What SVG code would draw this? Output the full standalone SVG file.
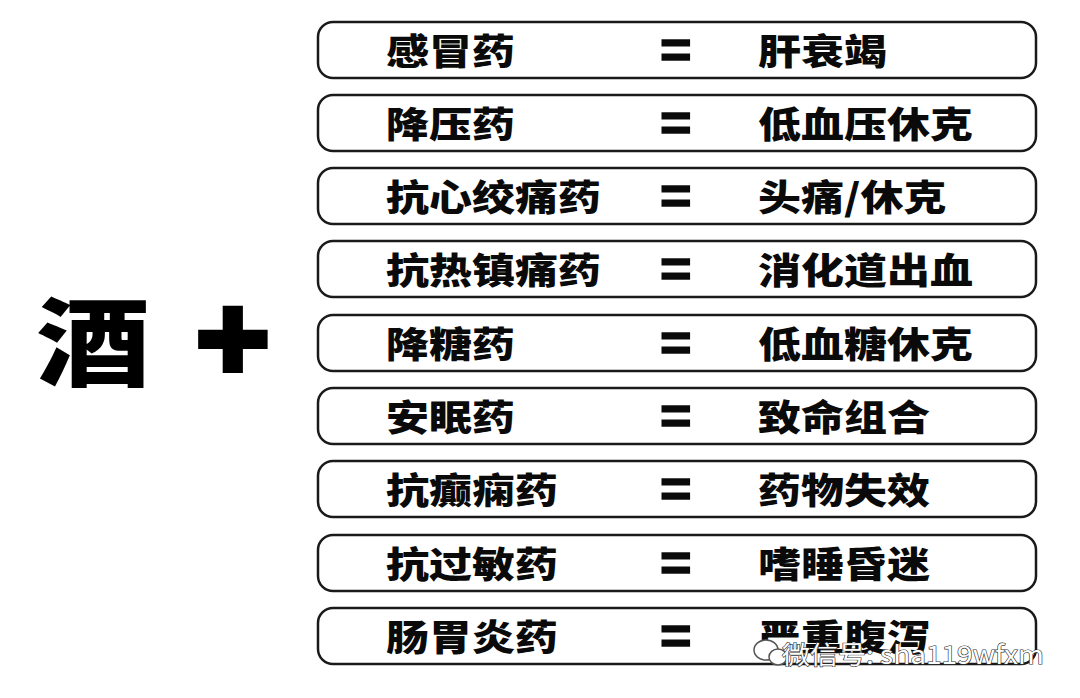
<svg xmlns="http://www.w3.org/2000/svg" width="1080" height="698" viewBox="0 0 1080 698">
<style>
.box{fill:#ffffff;stroke:#1a1a1a;stroke-width:2.5}
.t{font-family:"Noto Sans CJK SC","Noto Sans CJK TC",sans-serif;font-weight:900;font-size:43px;fill:#0a0a0a}
.eq{font-family:"Liberation Sans",Arial,sans-serif;font-weight:bold;font-size:54px;fill:#0a0a0a;stroke:#0a0a0a;stroke-width:1.5}
.big{font-family:"Noto Sans CJK SC",sans-serif;font-weight:900;font-size:118px;fill:#000}
.plus{font-family:"Liberation Sans",Arial,sans-serif;font-weight:bold;font-size:120px;fill:#000;stroke:#000;stroke-width:6}
.wm{font-family:"Noto Sans CJK SC","Liberation Sans",sans-serif;font-size:25px;fill:#ffffff;stroke:#333;stroke-width:1.2;paint-order:stroke}
</style>
<rect width="1080" height="698" fill="#ffffff"/>
<g id="left">
<text class="big" transform="translate(36,378) scale(0.97,0.82)">酒</text>
<text class="plus" transform="translate(196,380) scale(1.05,1)">+</text>
</g>
<g id="row1"><rect class="box" x="318" y="22" width="718" height="56" rx="15"/><text class="t" transform="translate(386,65) scale(1,0.85)">感冒药</text><text class="eq" x="660" y="68">=</text><text class="t" transform="translate(758,65) scale(1,0.85)">肝衰竭</text></g>
<g id="row2"><rect class="box" x="318" y="95" width="718" height="56" rx="15"/><text class="t" transform="translate(386,138) scale(1,0.85)">降压药</text><text class="eq" x="660" y="141">=</text><text class="t" transform="translate(758,138) scale(1,0.85)">低血压休克</text></g>
<g id="row3"><rect class="box" x="318" y="168" width="718" height="56" rx="15"/><text class="t" transform="translate(386,211) scale(1,0.85)">抗心绞痛药</text><text class="eq" x="660" y="214">=</text><text class="t" transform="translate(758,211) scale(1,0.85)">头痛/休克</text></g>
<g id="row4"><rect class="box" x="318" y="241" width="718" height="56" rx="15"/><text class="t" transform="translate(386,284) scale(1,0.85)">抗热镇痛药</text><text class="eq" x="660" y="287">=</text><text class="t" transform="translate(758,284) scale(1,0.85)">消化道出血</text></g>
<g id="row5"><rect class="box" x="318" y="315" width="718" height="56" rx="15"/><text class="t" transform="translate(386,358) scale(1,0.85)">降糖药</text><text class="eq" x="660" y="361">=</text><text class="t" transform="translate(758,358) scale(1,0.85)">低血糖休克</text></g>
<g id="row6"><rect class="box" x="318" y="388" width="718" height="56" rx="15"/><text class="t" transform="translate(386,431) scale(1,0.85)">安眠药</text><text class="eq" x="660" y="434">=</text><text class="t" transform="translate(758,431) scale(1,0.85)">致命组合</text></g>
<g id="row7"><rect class="box" x="318" y="461" width="718" height="56" rx="15"/><text class="t" transform="translate(386,504) scale(1,0.85)">抗癫痫药</text><text class="eq" x="660" y="507">=</text><text class="t" transform="translate(758,504) scale(1,0.85)">药物失效</text></g>
<g id="row8"><rect class="box" x="318" y="535" width="718" height="56" rx="15"/><text class="t" transform="translate(386,578) scale(1,0.85)">抗过敏药</text><text class="eq" x="660" y="581">=</text><text class="t" transform="translate(758,578) scale(1,0.85)">嗜睡昏迷</text></g>
<g id="row9"><rect class="box" x="318" y="608" width="718" height="56" rx="15"/><text class="t" transform="translate(386,651) scale(1,0.85)">肠胃炎药</text><text class="eq" x="660" y="654">=</text><text class="t" transform="translate(758,651) scale(1,0.85)">严重腹泻</text></g>
<g id="watermark">
<ellipse cx="766" cy="650" rx="12" ry="10" fill="#ffffff" stroke="#555" stroke-width="1.5"/>
<ellipse cx="778" cy="657" rx="9" ry="8" fill="#ffffff" stroke="#555" stroke-width="1.5"/>
<text class="wm" x="782" y="664" textLength="262" lengthAdjust="spacingAndGlyphs">微信号: sha119wfxm</text>
</g>
</svg>
